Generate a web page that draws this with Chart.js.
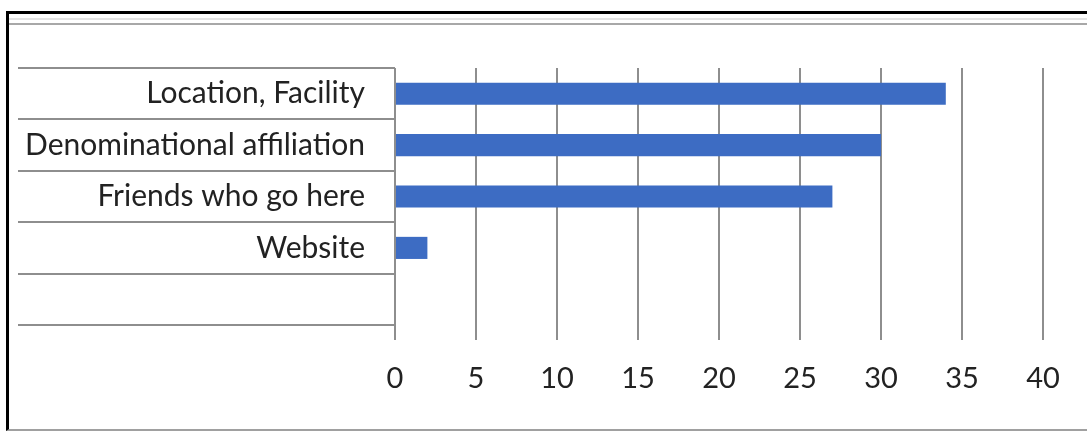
<!DOCTYPE html>
<html>
<head>
<meta charset="utf-8">
<script src="https://cdn.jsdelivr.net/npm/chart.js@4.4.1/dist/chart.umd.min.js"></script>
<style>
    html, body { margin: 0; padding: 0; background: #fff; }
    #wrap { position: relative; width: 1087px; height: 432px; overflow: hidden; }
    #frame {
        position: absolute; left: 6px; top: 11px; width: 1100px; height: 415px;
        border-left: 3px solid #000; border-top: 3px solid #000; border-bottom: 2px solid #a0a0a0;
        pointer-events: none;
    }
    #topline { position: absolute; left: 9px; top: 23px; width: 1080px; height: 2px; background: #a8a8a8; }
    #topline2 { position: absolute; left: 9px; top: 18px; width: 1080px; height: 2px; background: #e4e4e4; }
</style>
</head>
<body>
<div id="wrap">
    <canvas id="BarChart" width="1087" height="432"></canvas>
    <div id="topline2"></div>
    <div id="topline"></div>
    <div id="frame"></div>
</div>
<script>
    // chart values
    var categories = ['Location, Facility', 'Denominational affiliation', 'Friends who go here', 'Website', ''];
    var counts = [34, 30, 27, 2, null];
    var tickMin = 0;
    var tickMax = 40;
    var tickStep = 5;

    var labelFont = "Lato, 'Open Sans', sans-serif";

    var renderBarChart = function () {
        const ctx = document.getElementById('BarChart').getContext('2d');
        const config = {
            type: 'bar',
            data: {
                labels: categories,
                datasets: [{
                    data: counts,
                    backgroundColor: '#3d6cc3',
                    borderWidth: 0,
                    categoryPercentage: 1,
                    barPercentage: 0.43
                }]
            },
            options: {
                indexAxis: 'y',
                responsive: false,
                animation: false,
                layout: { padding: { top: 68, right: 44, bottom: 0, left: 0 } },
                plugins: {
                    legend: { display: false },
                    tooltip: { enabled: false }
                },
                scales: {
                    x: {
                        min: tickMin,
                        max: tickMax,
                        afterFit: function (s) { s.height = 107; },
                        border: { display: false },
                        grid: { color: '#8e8e8e', lineWidth: 2, drawTicks: true, tickLength: 15 },
                        ticks: {
                            stepSize: tickStep,
                            color: '#222',
                            padding: 21,
                            font: { family: labelFont, size: 29 }
                        }
                    },
                    y: {
                        afterFit: function (s) { s.width = 395; },
                        border: { display: false },
                        grid: { offset: true, drawOnChartArea: false, drawTicks: true, tickLength: 377, color: '#8e8e8e', lineWidth: 2 },
                        ticks: {
                            color: '#222',
                            padding: -347,
                            font: { family: labelFont, size: 30 }
                        }
                    }
                }
            }
        };
        const myChart = new Chart(ctx, config);
    }

    renderBarChart();
</script>
</body>
</html>
